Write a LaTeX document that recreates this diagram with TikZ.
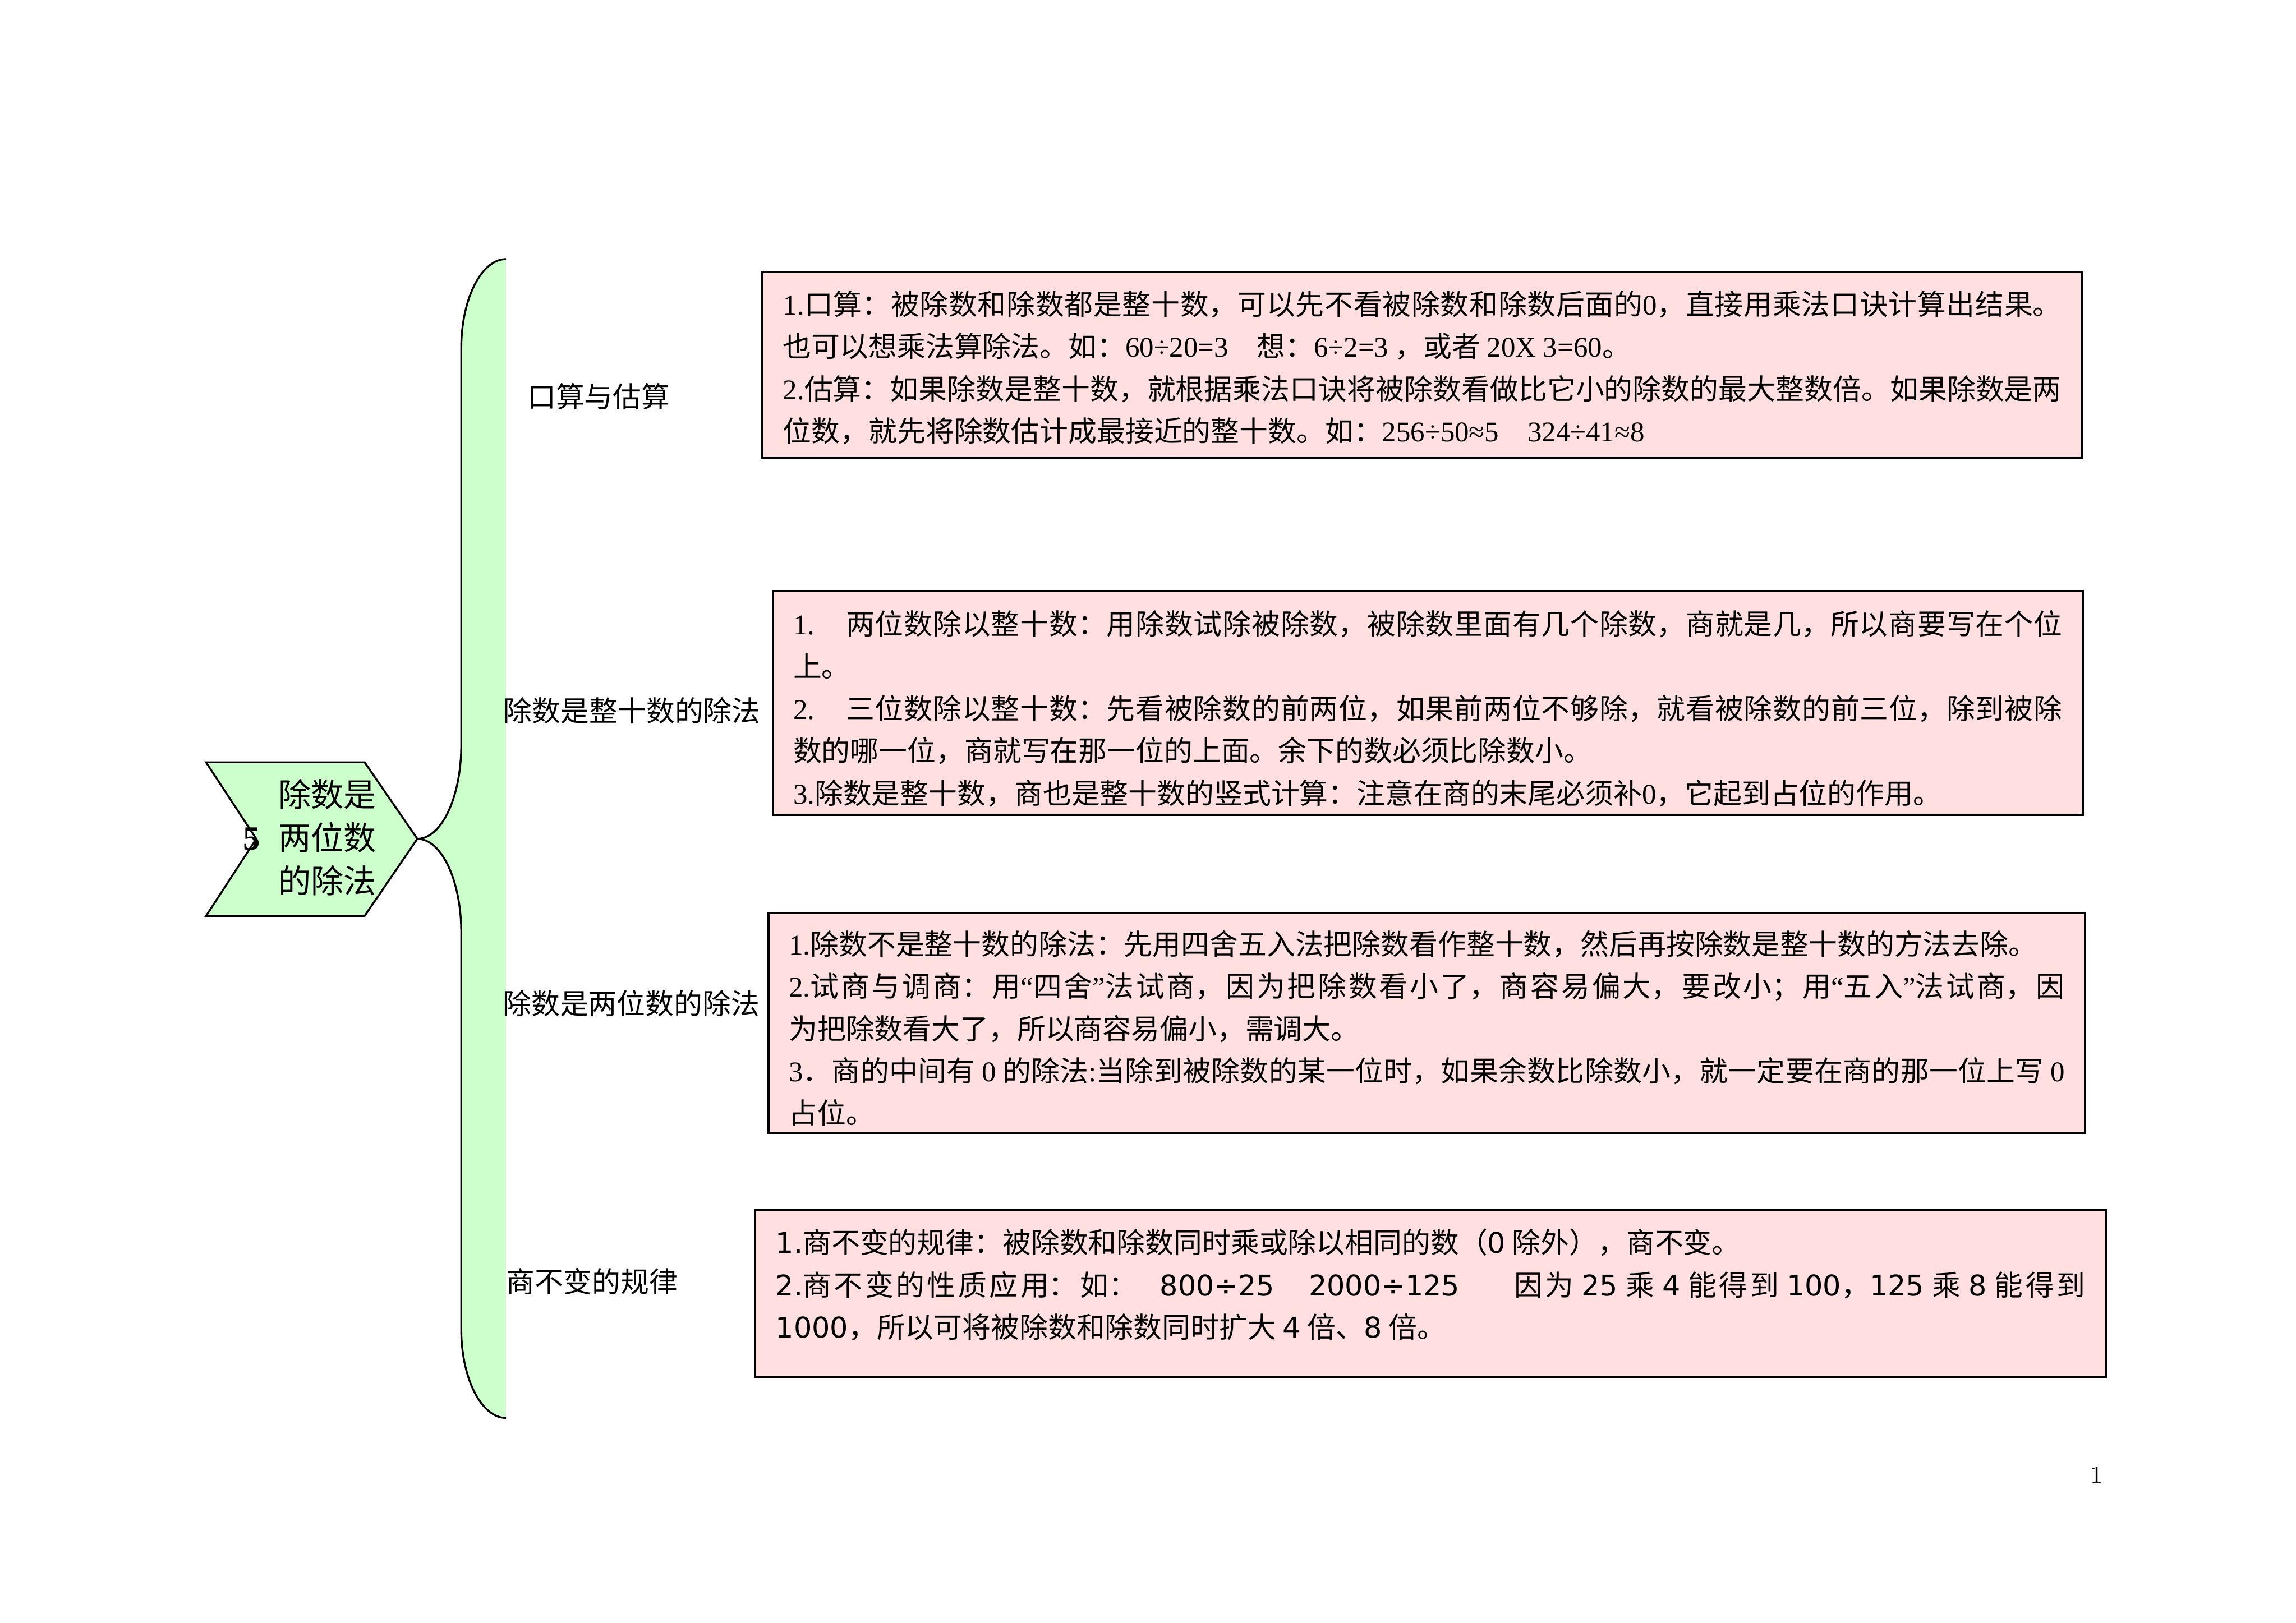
\documentclass[tikz,border=0pt]{standalone}
\usepackage{fontspec}
\newfontfamily\cjk{Noto Sans CJK SC}
\newfontfamily\lserif{Liberation Serif}
\newfontfamily\vsans{DejaVu Sans}
\newcommand\sd[1]{{\lserif #1}}
\newcommand\vd[1]{{\vsans #1}}
\newcommand\headroom[1]{\rule{0pt}{#1}}
\newcommand\footroom[1]{\rule[-#1]{0pt}{#1}}
\XeTeXlinebreaklocale "zh"
\XeTeXlinebreakskip=0pt plus 2pt minus 0.2pt
\tolerance=9999
\definecolor{mapgreen}{HTML}{CCFFCC}
\definecolor{notepink}{HTML}{FFDFE0}

\begin{document}
\begin{tikzpicture}[
x=0.18941mm, y=-0.18941mm,
topic/.style={draw=black, fill=mapgreen, line width=0.7pt},
topictext/.style={align=left, inner sep=0pt, font={\cjk\fontsize{12}{15.9}\selectfont}},
branch/.style={anchor=west, inner sep=0pt, font={\cjk\fontsize{10.5}{12}\selectfont}},
note/.style={draw=black, fill=notepink, line width=0.8pt, anchor=north west, inner xsep=2.65mm, inner ysep=0pt, align=justify, font={\cjk\fontsize{10.5}{15.55}\selectfont}},
]
\useasboundingbox (0,0) rectangle (1568,1108.6);
\coordinate (tip) at (285,573);
\draw[topic] (140.7,520.7) -- (249,520.7) -- (tip) -- (249,625.7) -- (140.7,625.7) -- (175,573) -- cycle;
\node[topictext, anchor=west] (topic) at (189.7,572) {除数是\\两位数\\的除法};
\node[inner sep=0pt, font=\lserif\bfseries\fontsize{12.5}{14}\selectfont] (num) at (172,573) {5};

\fill[mapgreen] (345.6,177) .. controls (328.7,177) and (315,204.3) .. (315,238) -- (315,509)
	.. controls (315,544.3) and (301.6,573) .. (tip)
	.. controls (301.6,573) and (315,601.7) .. (315,637) -- (315,908)
	.. controls (315,941.5) and (328.7,968.6) .. (345.6,968.6) -- cycle;
\draw[line width=0.7pt] (345.6,177) .. controls (328.7,177) and (315,204.3) .. (315,238) -- (315,509)
	.. controls (315,544.3) and (301.6,573) .. (tip)
	.. controls (301.6,573) and (315,601.7) .. (315,637) -- (315,908)
	.. controls (315,941.5) and (328.7,968.6) .. (345.6,968.6);

\node[branch] (oral) at (359.8,270.8) {口算与估算};
\node[branch] (tens) at (343.6,485.3) {除数是整十数的除法};
\node[branch] (twodigit) at (343,685.5) {除数是两位数的除法};
\node[branch] (rule) at (345.5,875.5) {商不变的规律};

\node[note, text width=165.36mm, minimum height=24.06mm] (oralnote) at (520,185) {%
	\headroom{15.7pt}\sd{1.}口算：被除数和除数都是整十数，可以先不看被除数和除数后面的\sd{0}，直接用乘法口诀计算出结果。\linebreak
	也可以想乘法算除法。如：\sd{60÷20=3}　想：\sd{6÷2=3} ，或者 \sd{20X 3=60}。\\
	\sd{2.}估算：如果除数是整十数，就根据乘法口诀将被除数看做比它小的除数的最大整数倍。如果除数是两\linebreak
	位数，就先将除数估计成最接近的整十数。如：\sd{256÷50≈5}　\sd{324÷41≈8}\footroom{5.8pt}};
\node[note, text width=164.13mm, minimum height=28.98mm] (tensnote) at (527,403) {%
	\headroom{15.9pt}\sd{1.}\hspace{1.1em}两位数除以整十数：用除数试除被除数，被除数里面有几个除数，商就是几，所以商要写在个位\linebreak
	上。\\
	\sd{2.}\hspace{1.1em}三位数除以整十数：先看被除数的前两位，如果前两位不够除，就看被除数的前三位，除到被除\linebreak
	数的哪一位，商就写在那一位的上面。余下的数必须比除数小。\\
	\sd{3.}除数是整十数，商也是整十数的竖式计算：注意在商的末尾必须补\sd{0}，它起到占位的作用。\footroom{4pt}};
\node[note, text width=165.04mm, minimum height=28.41mm] (twonote) at (524,623) {%
	\headroom{15.2pt}\sd{1.}除数不是整十数的除法：先用四舍五入法把除数看作整十数，然后再按除数是整十数的方法去除。\\
	\sd{2.}试商与调商：用\sd{“}四舍\sd{”}法试商，因为把除数看小了，商容易偏大，要改小；用\sd{“}五入\sd{”}法试商，因\linebreak
	为把除数看大了，所以商容易偏小，需调大。\\
	\sd{3}．商的中间有 \sd{0} 的除法\sd{:}当除到被除数的某一位时，如果余数比除数小，就一定要在商的那一位上写 \sd{0}\linebreak
	占位。\footroom{3.1pt}};
\node[note, text width=169.39mm, minimum height=21.59mm] (rulenote) at (515,826) {%
	\headroom{15.7pt}\vd{1.}商不变的规律：被除数和除数同时乘或除以相同的数（\vd{0} 除外），商不变。\\
	\vd{2.}商不变的性质应用：如：\hspace{0.8em}\vd{800÷25}\hspace{1.2em}\vd{2000÷125}\hspace{1.9em}因为 \vd{25} 乘 \vd{4} 能得到 \vd{100}，\vd{125} 乘 \vd{8} 能得到\linebreak
	\vd{1000}，所以可将被除数和除数同时扩大 \vd{4} 倍、\vd{8} 倍。\footroom{14.4pt}};

\node[inner sep=0pt, font=\fontsize{9}{10}\selectfont] (page) at (1431.8,1007.5) {1};
\end{tikzpicture}
\end{document}
